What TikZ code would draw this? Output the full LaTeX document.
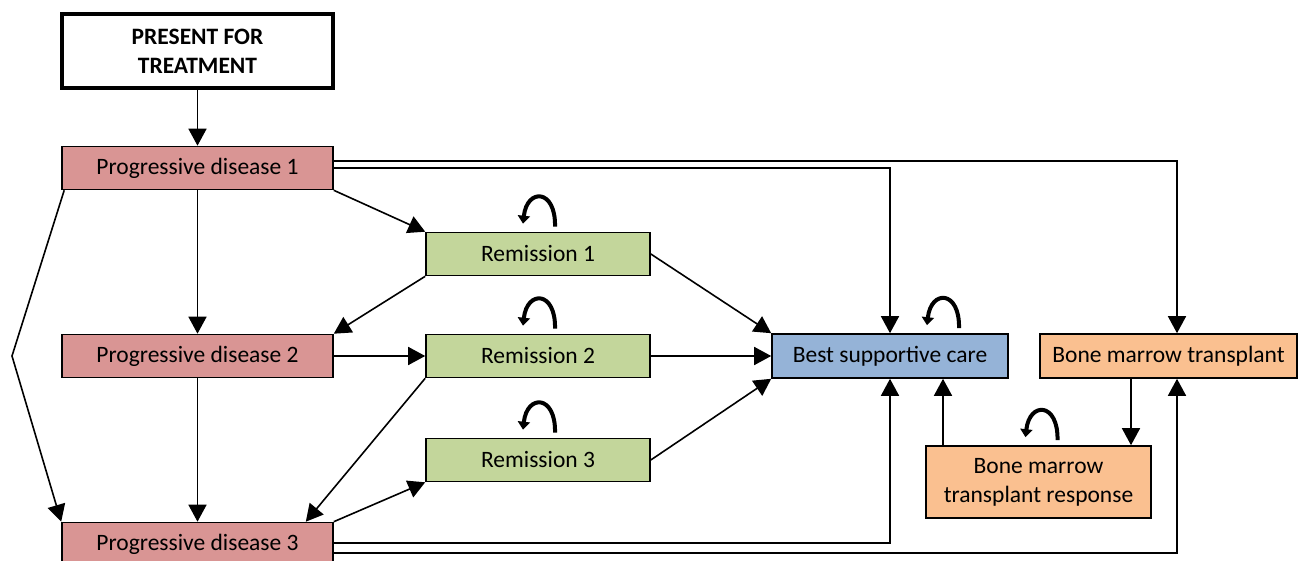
\documentclass[tikz,border=0pt]{standalone}
\usepackage{fontspec}
\setmainfont{Carlito}
\usetikzlibrary{arrows.meta,calc}
\definecolor{pdred}{HTML}{D99594}
\definecolor{remgreen}{HTML}{C3D69B}
\definecolor{bscblue}{HTML}{95B3D7}
\definecolor{bmtorange}{HTML}{FAC090}
\tikzset{
  box/.style={draw=black, line width=1.6pt, inner sep=0pt, align=center,
    font=\fontsize{23.5}{29}\selectfont},
  pdbox/.style={box, fill=pdred, minimum width=271pt, minimum height=43pt},
  rembox/.style={box, fill=remgreen, minimum width=224pt, minimum height=43pt},
  arr/.style={line width=1.6pt, -{Triangle[length=17pt,width=18pt]}},
  selfloop/.style={line width=4pt, -{Triangle[length=8pt,width=12pt]}},
}
\begin{document}
\begin{tikzpicture}[x=1pt,y=-1pt]
\useasboundingbox (0,0) rectangle (1299,561);
% nodes
\node[box, line width=3.5pt, fill=white, minimum width=271pt, minimum height=74pt,
  font=\bfseries\fontsize{23.5}{29}\selectfont] (present) at (197.5,51) {PRESENT FOR\\TREATMENT};
\node[pdbox] (pd1) at (197.5,168) {Progressive disease 1};
\node[pdbox] (pd2) at (197.5,356) {Progressive disease 2};
\node[pdbox] (pd3) at (197.5,544) {Progressive disease 3};
\node[rembox] (r1) at (538,254) {Remission 1};
\node[rembox] (r2) at (538,356) {Remission 2};
\node[rembox] (r3) at (538,460) {Remission 3};
\node[box, fill=bscblue, minimum width=236pt, minimum height=44pt] (bsc) at (890,356) {Best supportive care};
\node[box, fill=bmtorange, minimum width=257pt, minimum height=44pt] (bmt) at (1168.5,356) {Bone marrow transplant};
\node[box, fill=bmtorange, minimum width=225pt, minimum height=72pt] (bmtr) at (1038.5,482) {Bone marrow\\transplant response};
\coordinate (lk) at (12,356);
% connectors
\draw[arr] (present) -- (pd1);
\draw[arr] (pd1) -- (pd2);
\draw[arr] (pd2) -- (pd3);
\draw[arr] ([xshift=3pt]pd1.south west) -- (lk) -- (pd3.north west);
\draw[arr] (pd1.south east) -- (r1.north west);
\draw[arr] (r1.south west) -- (pd2.north east);
\draw[arr] (pd2) -- (r2);
\draw[arr] (r2.south west) -- ([xshift=-28pt]pd3.north east);
\draw[arr] (pd3.north east) -- (r3.south west);
\draw[arr] (r1.east) -- (bsc.north west);
\draw[arr] (r2) -- (bsc);
\draw[arr] (r3.east) -- (bsc.south west);
\draw[arr] ([yshift=7pt]pd1.east) -| ([xshift=8.5pt]bmt.north);
\draw[arr] (pd1.east) -| (bsc.north);
\draw[arr] ([yshift=1pt]pd3.east) -| (bsc.south);
\draw[arr] ([yshift=-9pt]pd3.east) -| ([xshift=8.5pt]bmt.south);
\draw[arr] ([xshift=-37.5pt]bmt.south) -- ([xshift=-37.5pt]bmt.south |- bmtr.north);
\draw[arr] ([xshift=-95.5pt]bmtr.north) -- ([xshift=-95.5pt]bmtr.north |- bsc.south);
% self loops
\foreach \n/\dx in {r1/0,r2/0,r3/0,bsc/52,bmtr/2}{
  \draw[selfloop] ([xshift=\dx pt+17pt,yshift=5pt]\n.north) .. controls +(1,-38) and +(4,-36) .. ([xshift=\dx pt-15pt,yshift=8pt]\n.north);
}
\end{tikzpicture}
\end{document}
